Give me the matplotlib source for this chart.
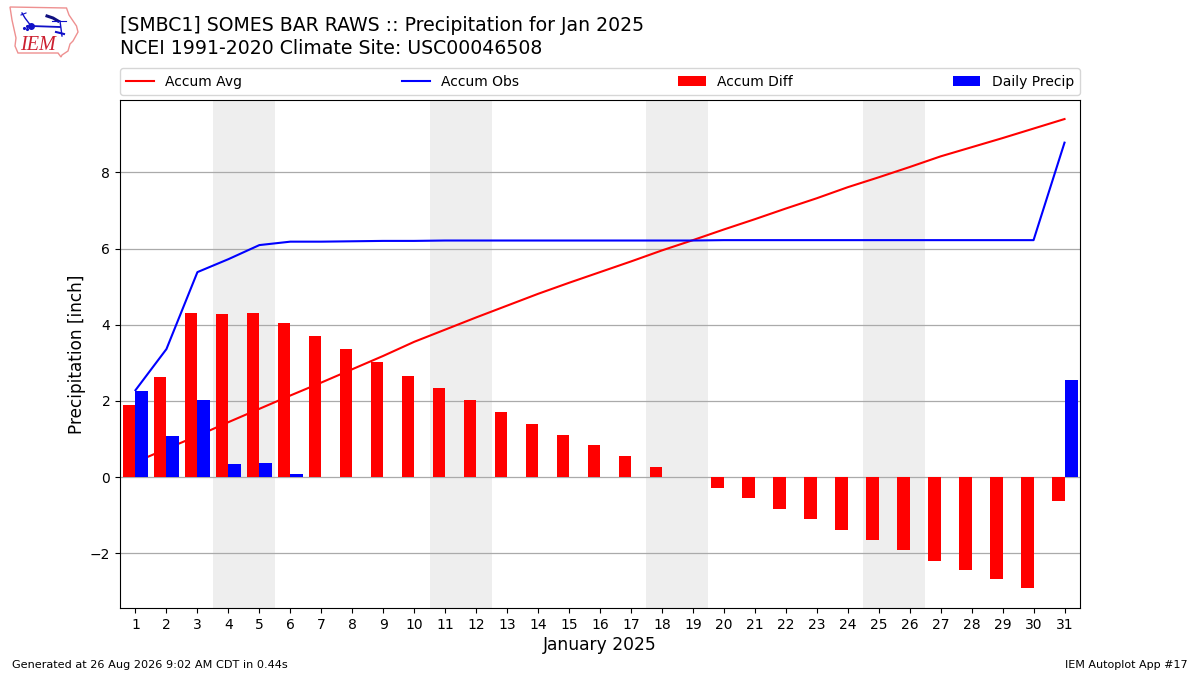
import matplotlib
matplotlib.use("Agg")
import matplotlib.pyplot as plt
from matplotlib.patches import Polygon

days = list(range(1, 32))
accum_avg = [0.39, 0.74, 1.08, 1.44, 1.79, 2.14, 2.48, 2.83, 3.18, 3.55, 3.87,
             4.19, 4.50, 4.81, 5.10, 5.38, 5.66, 5.95, 6.22, 6.50, 6.77, 7.05,
             7.32, 7.61, 7.87, 8.14, 8.42, 8.66, 8.90, 9.15, 9.40]
accum_obs = [2.28, 3.36, 5.38, 5.72, 6.09, 6.18, 6.18, 6.19, 6.20, 6.20, 6.21,
             6.21, 6.21, 6.21, 6.21, 6.21, 6.21, 6.21, 6.21, 6.22, 6.22, 6.22,
             6.22, 6.22, 6.22, 6.22, 6.22, 6.22, 6.22, 6.22, 8.78]
accum_diff = [1.89, 2.62, 4.30, 4.28, 4.30, 4.04, 3.70, 3.36, 3.02, 2.65, 2.34,
              2.02, 1.71, 1.39, 1.11, 0.84, 0.56, 0.27, 0.00, -0.28, -0.55, -0.83,
              -1.10, -1.39, -1.65, -1.92, -2.20, -2.44, -2.68, -2.91, -0.63]
daily_precip = [2.26, 1.08, 2.02, 0.34, 0.37, 0.08, 0, 0.01, 0.01, 0, 0.01,
                0, 0, 0, 0, 0, 0, 0, 0, 0.01, 0, 0, 0, 0, 0, 0, 0, 0, 0, 0, 2.55]
weekends = [(3.5, 5.5), (10.5, 12.5), (17.5, 19.5), (24.5, 26.5)]

fig = plt.figure(figsize=(12, 6.75), dpi=100)
ax = fig.add_axes([120 / 1200, 1 - 608 / 675, 960 / 1200, 508 / 675])

for start, end in weekends:
    ax.axvspan(start, end, color="#eeeeee", lw=0, zorder=0)

ax.plot(days, accum_avg, color="r", lw=1.5, label="Accum Avg", zorder=2)
ax.plot(days, accum_obs, color="b", lw=1.5, label="Accum Obs", zorder=2)
ax.bar(days, accum_diff, width=-0.4, align="edge", color="r", label="Accum Diff", zorder=3)
ax.bar(days, daily_precip, width=0.42, align="edge", color="b", label="Daily Precip", zorder=3)

ax.set_xlim(0.5, 31.5)
ax.set_ylim(-3.44, 9.9)
ax.set_xticks(days)
ax.set_yticks([-2, 0, 2, 4, 6, 8])
ax.tick_params(labelsize=10)
ax.grid(True, axis="y", color="#aaaaaa", lw=0.9, zorder=1)
ax.set_axisbelow(True)
ax.set_xlabel("January 2025", fontsize=12.3, labelpad=3)
ax.set_ylabel("Precipitation [inch]", fontsize=12.2, labelpad=3)

ax.legend(loc="lower left", bbox_to_anchor=(0, 1.01, 1, 0.05), ncol=4, mode="expand",
          borderaxespad=0, fontsize=10, borderpad=0.45)

fig.text(120 / 1200, 1 - 25.5 / 675, "[SMBC1] SOMES BAR RAWS :: Precipitation for Jan 2025",
         fontsize=13.55, va="center", ha="left")
fig.text(120 / 1200, 1 - 48 / 675, "NCEI 1991-2020 Climate Site: USC00046508",
         fontsize=13.55, va="center", ha="left")
fig.text(12 / 1200, 1 - 665 / 675, "Generated at 26 Aug 2026 9:02 AM CDT in 0.44s",
         fontsize=8.15, va="center", ha="left")
fig.text(1188 / 1200, 1 - 665 / 675, "IEM Autoplot App #17",
         fontsize=8, va="center", ha="right")

# logo, drawn in pixel coordinates of the figure
logo = fig.add_axes([0, 1 - 60 / 675, 82 / 1200, 60 / 675])
logo.set_xlim(0, 82)
logo.set_ylim(60, 0)
logo.axis("off")
outline = [(10, 7), (66.5, 8), (69, 15), (76.5, 26), (78, 32), (73, 41), (70, 44),
           (68, 51), (62, 55), (61, 57), (58, 53), (18, 53), (15, 46), (16, 38), (12, 20)]
logo.add_patch(Polygon(outline, closed=True, fill=False, ec="#ee9090", lw=1))
logo.plot([31, 60], [26, 27], color="#1010c8", lw=1.3)
logo.plot([31], [26], "o", color="#1010c8", ms=4)
logo.plot([22, 25, 31], [13, 18, 26], color="#1010c8", lw=1)
logo.plot([21, 26], [15, 13], color="#1010c8", lw=0.8)
logo.plot([47, 53, 58], [16, 18, 21], color="#101080", lw=2.2)
logo.plot([52, 66], [21, 21], color="#1010c8", lw=0.8)
logo.plot([60, 62], [21, 36], color="#1010c8", lw=1)
logo.plot([56, 64], [32, 34], color="#1010c8", lw=1.5)
logo.plot([24, 27, 27], [28, 26, 29], ".", color="#1010c8", ms=2.5)
logo.text(37.5, 46, "IEM", color="#cc2030", fontsize=14.5, family="Liberation Serif",
          style="italic", ha="center", va="center")

fig.savefig("out.png", dpi=100)
